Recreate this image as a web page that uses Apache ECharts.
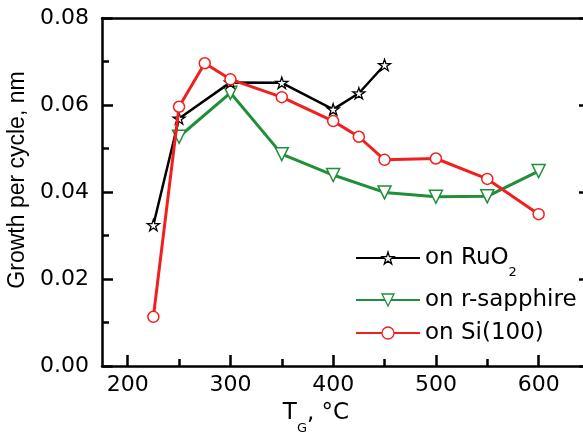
<!DOCTYPE html>
<html><head><meta charset="utf-8">
<script src="https://cdn.jsdelivr.net/npm/echarts@6/dist/echarts.min.js"></script>
<style>html,body{margin:0;padding:0;background:#fff}#c{width:583px;height:436px}</style>
</head><body><div id="c"></div>
<script>
const ruTemps = [225, 250, 300, 350, 400, 425, 450];
const ruValues = [0.0324, 0.0569, 0.0652, 0.0651, 0.0590, 0.0627, 0.0692];
const sapTemps = [250, 300, 350, 400, 450, 500, 550, 600];
const sapValues = [0.0527, 0.0628, 0.0487, 0.0439, 0.0399, 0.0389, 0.0390, 0.0448];
const siTemps = [225, 250, 275, 300, 350, 400, 425, 450, 500, 550, 600];
const siValues = [0.0113, 0.0596, 0.0696, 0.0659, 0.0618, 0.0563, 0.0527, 0.0474, 0.0477, 0.0430, 0.0349];
const xMajorTicks = [200, 300, 400, 500, 600];
const xMinorTicks = [250, 350, 450, 550];
const seriesNames = ['on RuO2', 'on r-sapphire', 'on Si(100)'];

const pairs = (t, v) => t.map((x, i) => [x, v[i]]);
const star = 'path://M50,2 L61.2,36.3 L97.6,36.3 L68.2,57.7 L79.4,92 L50,70.8 L20.6,92 L31.8,57.7 L2.4,36.3 L38.8,36.3 Z';
const FONT = 'DejaVu Sans';
const BLACK = '#000', GREEN = '#1f8f3a', RED = '#f0201e';
const AX = 2.5;

const chart = echarts.init(document.getElementById('c'), null, {renderer: 'canvas'});
const baseX = {type: 'value', min: 175, max: 650, gridIndex: 0, splitLine: {show: false}};
const legendText = {fontFamily: FONT, fontSize: 23, color: '#000', lineHeight: 24,
  rich: {a: {fontFamily: FONT, fontSize: 23, color: '#000'}, s: {fontFamily: FONT, fontSize: 13, color: '#000', verticalAlign: 'bottom', padding: [0, 0, -9, 0]}}};
function leg(name, top, color) {
  return {show: true, data: [{name: name, itemStyle: {color: '#fff', borderColor: color, borderWidth: 1.3}}],
    left: 355, top: top, orient: 'vertical', padding: 0,
    itemWidth: 64, itemHeight: 15, textStyle: legendText, selectedMode: false,
    formatter: n => n === 'on RuO2' ? '{a|on RuO}{s|2}' : n};
}
chart.setOption({
  animation: false,
  backgroundColor: '#fff',
  grid: {left: 102, top: 18, width: 488, height: 348, containLabel: false, outerBoundsMode: 'none'},
  legend: [leg(seriesNames[0], 246, BLACK), leg(seriesNames[1], 288, GREEN), leg(seriesNames[2], 321, RED)],
  xAxis: [
    Object.assign({}, baseX, {position: 'bottom',
      axisLine: {lineStyle: {color: BLACK, width: AX}},
      axisTick: {inside: true, length: 11, lineStyle: {width: AX, color: BLACK}, customValues: xMajorTicks},
      axisLabel: {customValues: xMajorTicks, fontFamily: FONT, fontSize: 22, color: '#000', margin: 8}}),
    Object.assign({}, baseX, {position: 'bottom',
      axisLine: {show: false},
      axisTick: {inside: true, length: 7, lineStyle: {width: AX, color: BLACK}, customValues: xMinorTicks},
      axisLabel: {show: false}}),
    Object.assign({}, baseX, {position: 'top',
      axisLine: {lineStyle: {color: BLACK, width: AX}},
      axisTick: {show: false}, axisLabel: {show: false}})
  ],
  yAxis: [
    {type: 'value', min: 0, max: 0.08, interval: 0.02, position: 'left',
      axisLine: {show: true, lineStyle: {color: BLACK, width: AX}},
      axisTick: {show: true, inside: true, length: 11, lineStyle: {width: AX, color: BLACK}},
      minorTick: {show: true, splitNumber: 2, length: 7, lineStyle: {width: AX, color: BLACK}},
      splitLine: {show: false},
      axisLabel: {fontFamily: FONT, fontSize: 22, color: '#000', margin: 13, formatter: v => v.toFixed(2)}},
    {type: 'value', min: 0, max: 0.08, interval: 0.02, position: 'right',
      axisLine: {show: true, lineStyle: {color: BLACK, width: AX}},
      axisTick: {show: true, inside: true, length: 11, lineStyle: {width: AX, color: BLACK}},
      minorTick: {show: true, splitNumber: 2, length: 7, lineStyle: {width: AX, color: BLACK}},
      splitLine: {show: false}, axisLabel: {show: false}}
  ],
  series: [
    {name: seriesNames[1], type: 'line', data: pairs(sapTemps, sapValues), z: 2,
      symbol: 'triangle', symbolRotate: 180, symbolSize: 13, showAllSymbol: true,
      lineStyle: {color: GREEN, width: 3}, itemStyle: {color: '#fff', borderColor: GREEN, borderWidth: 1.5}},
    {name: seriesNames[0], type: 'line', data: pairs(ruTemps, ruValues), z: 3,
      symbol: star, symbolSize: 12, symbolKeepAspect: true, showAllSymbol: true,
      lineStyle: {color: BLACK, width: 2.5}, itemStyle: {color: '#fff', borderColor: BLACK, borderWidth: 1.3}},
    {name: seriesNames[2], type: 'line', data: pairs(siTemps, siValues), z: 4,
      symbol: 'circle', symbolSize: 11, showAllSymbol: true,
      lineStyle: {color: RED, width: 3}, itemStyle: {color: '#fff', borderColor: RED, borderWidth: 1.5}}
  ],
  graphic: [
    {type: 'text', x: 18, y: 180, rotation: Math.PI / 2,
      style: {text: 'Growth per cycle, nm', fontFamily: 'Liberation Sans', fontSize: 23, fill: '#000', align: 'center', verticalAlign: 'middle'}},
    {type: 'text', x: 316, y: 413,
      style: {text: '{t|T}{s|G}{t|, °C}', align: 'center', verticalAlign: 'middle',
        rich: {t: {fontFamily: FONT, fontSize: 23, fill: '#000'}, s: {fontFamily: FONT, fontSize: 13, fill: '#000', verticalAlign: 'bottom', padding: [0, 0, -11, 0]}}}}
  ]
});
</script></body></html>
